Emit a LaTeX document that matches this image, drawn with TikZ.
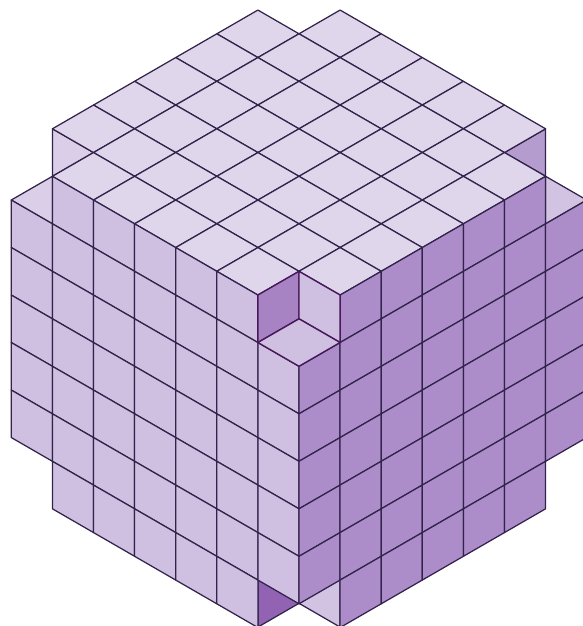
\documentclass[tikz,border=0pt]{standalone}
\definecolor{topc}{HTML}{E0D6EB}
\definecolor{leftc}{HTML}{CFBFE1}
\definecolor{rightc}{HTML}{AC8DC9}
\definecolor{edgec}{HTML}{32234C}
\definecolor{wallc}{HTML}{A883C4}
\definecolor{deepc}{HTML}{9163B2}
\definecolor{tritop}{HTML}{B59CCF}
\definecolor{trilight}{HTML}{D2C3E3}
\definecolor{trileft}{HTML}{DACEE8}
\tikzset{
  facet/.style={draw=edgec,line width=1.25pt,line join=round,line cap=round},
  notchedge/.style={draw=edgec!70!violet,line width=1.4pt,line join=round},
  topface/.style={shift={(299pt,13.7pt)},x={(41.1pt,-23.75pt)},y={(-41.1pt,-23.75pt)}},
  leftface/.style={shift={(11.3pt,-152.55pt)},x={(41.1pt,-23.75pt)},y={(0pt,-47.5pt)}},
  rightface/.style={shift={(299pt,-318.8pt)},x={(41.1pt,23.75pt)},y={(0pt,-47.5pt)}}
}
\newcommand{\cellgrid}[1]{%
  \foreach \u in {0,...,6}{\foreach \v in {0,...,6}{%
    \pgfmathtruncatemacro{\corner}{\u*(6-\u)+\v*(6-\v)}%
    \ifnum\corner=0\relax\else
      \draw[facet,fill=#1] (\u,\v) -- ++(1,0) -- ++(0,1) -- ++(-1,0) -- cycle;
    \fi
  }}}
\begin{document}
\begin{tikzpicture}[x=1pt,y=-1pt]
\useasboundingbox (0,0) rectangle (583,626);
\clip (0,0) rectangle (583,626);
% revealed faces in the removed corners
\draw[facet,fill=trileft] (52.4,128.8) -- (93.5,152.55) -- (52.4,176.3) -- cycle;
\draw[facet,fill=trileft] (52.4,176.3) -- (11.3,200) -- (52.4,223.8) -- cycle;
\draw[facet,fill=tritop] (504.5,152.55) -- (545.6,128.8) -- (545.6,176.3) -- cycle;
\draw[facet,fill=trilight] (545.6,176.3) -- (586.7,200) -- (545.6,223.8) -- cycle;
\draw[facet,fill=deepc] (257.9,579.6) -- (299,603.3) -- (257.9,627.1) -- cycle;
\draw[facet,fill=trilight] (299,603.3) -- (340.1,579.6) -- (340.1,627.1) -- cycle;
% the three main faces
\begin{scope}[topface]\cellgrid{topc}\end{scope}
\begin{scope}[leftface]\cellgrid{leftc}\end{scope}
\begin{scope}[rightface]\cellgrid{rightc}\end{scope}
% front corner notch
\draw[notchedge,fill=wallc] (257.9,295) -- (299,271.3) -- (299,318.8) -- (257.9,342.5) -- cycle;
\draw[notchedge,fill=leftc] (299,271.3) -- (340.1,295) -- (340.1,342.5) -- (299,318.8) -- cycle;
\draw[notchedge,fill=leftc] (299,318.8) -- (340.1,342.5) -- (299,366.3) -- (257.9,342.5) -- cycle;
\end{tikzpicture}
\end{document}
